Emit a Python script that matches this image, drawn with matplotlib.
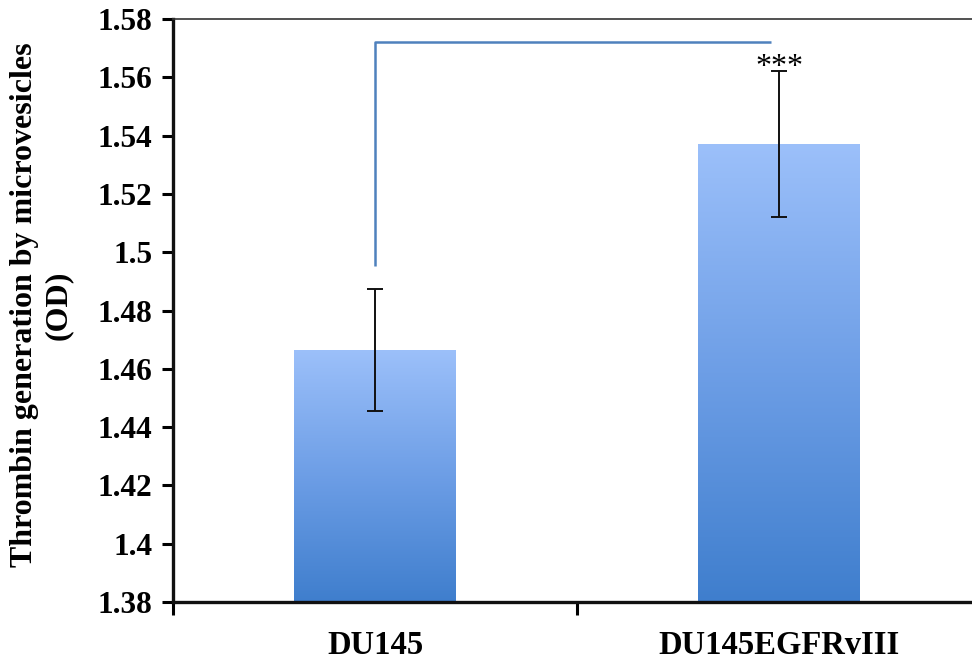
import numpy as np
import matplotlib
matplotlib.use("Agg")
import matplotlib.pyplot as plt
from matplotlib.colors import LinearSegmentedColormap

categories = ["DU145", "DU145EGFRvIII"]
means = [1.4665, 1.5372]
errors = [0.021, 0.025]
y_ticks = [1.38, 1.40, 1.42, 1.44, 1.46, 1.48, 1.50, 1.52, 1.54, 1.56, 1.58]
y_tick_labels = ["1.38", "1.4", "1.42", "1.44", "1.46", "1.48", "1.5", "1.52", "1.54", "1.56", "1.58"]
significance = "***"

plt.rcParams["font.family"] = ["Liberation Serif", "DejaVu Serif"]

W, H = 972, 659
fig = plt.figure(figsize=(W / 100, H / 100), dpi=100)
# plot area runs past the right edge of the figure, as in the original chart
ax = fig.add_axes([173 / W, 1 - 602 / H, 808 / W, (602 - 19) / H])

x = np.arange(len(categories))
bar_width = 0.40
bars = ax.bar(x, means, width=bar_width, bottom=0, color="none", edgecolor="none", zorder=2)

# vertical gradient fill inside each bar
grad_cmap = LinearSegmentedColormap.from_list("bar_grad", ["#3f7ecd", "#6d9ee6", "#9cc0fa"])
ymin, ymax = 1.38, 1.58
for rect in bars:
    x0 = rect.get_x()
    x1 = x0 + rect.get_width()
    top = rect.get_height()
    grad = np.linspace(0, 1, 256).reshape(-1, 1)
    im = ax.imshow(grad, cmap=grad_cmap, origin="lower", aspect="auto",
                   extent=[x0, x1, ymin, top], zorder=2, interpolation="bicubic")
    im.set_clip_path(rect)

ax.errorbar(x, means, yerr=errors, fmt="none", ecolor="#111111",
            elinewidth=1.4, capsize=6, capthick=1.4, zorder=4)

# significance bracket
bracket_y = 1.5721
ax.plot([0, 0, 0.98], [1.4953, bracket_y, bracket_y], color="#4f81bd",
        linewidth=1.8, solid_capstyle="butt", zorder=3)
ax.text(1, 1.5634, significance, ha="center", va="center", fontsize=23, zorder=5)

ax.set_xlim(-0.5, 1.5)
ax.set_ylim(ymin, ymax)

ax.set_yticks(y_ticks)
ax.set_yticklabels(y_tick_labels, fontsize=22.5, fontweight="bold")
ax.set_xticks(x)
ax.set_xticklabels(categories, fontsize=23.5, fontweight="bold")
ax.tick_params(axis="x", which="major", length=0, pad=20)
ax.set_xticks([-0.5, 0.5, 1.5], minor=True)
ax.tick_params(axis="x", which="minor", length=9, width=2.2, direction="out")
ax.tick_params(axis="y", length=8, width=2.2, direction="out", pad=7)

for side in ["left", "bottom"]:
    ax.spines[side].set_linewidth(2.4)
    ax.spines[side].set_color("#111111")
ax.spines["top"].set_linewidth(1.2)
ax.spines["top"].set_color("#333333")
ax.spines["right"].set_visible(False)

fig.text(25 / W, 1 - 305 / H, "Thrombin generation by microvesicles",
         rotation=90, ha="center", va="center", fontsize=23, fontweight="bold")
fig.text(58 / W, 1 - 305 / H, "(OD)",
         rotation=90, ha="center", va="center", fontsize=23, fontweight="bold")

fig.savefig("out.png", dpi=100)
